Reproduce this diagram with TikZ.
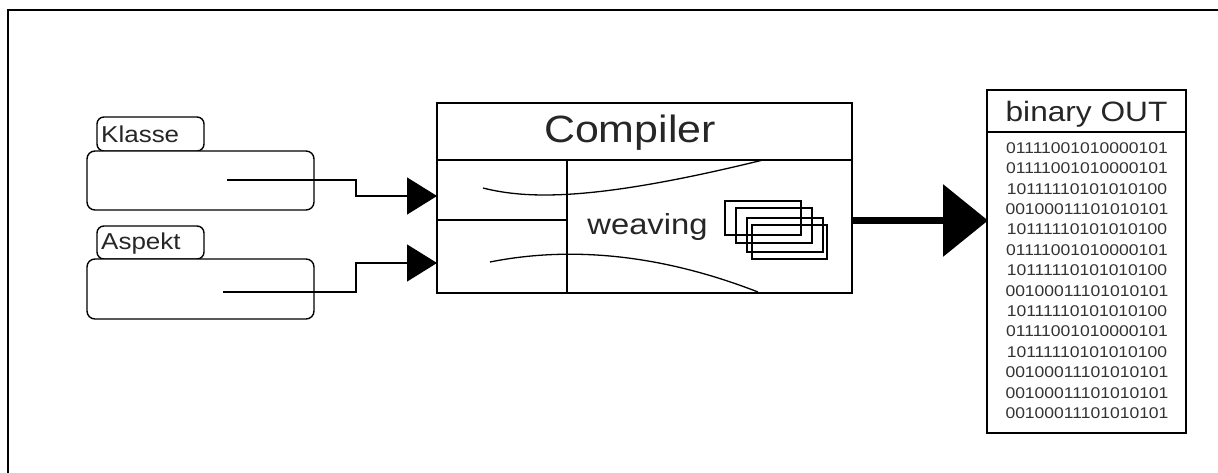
\documentclass[tikz,border=0pt]{standalone}
\usepackage{fontspec}
\setmainfont{Liberation Sans}[FakeStretch=1.13]
\usetikzlibrary{arrows.meta}
\tikzset{
  box/.style={draw, line width=1.4pt, rounded corners=8pt, inner sep=0pt, outer sep=0pt, fill=white},
  tab/.style={draw, line width=1.4pt, rounded corners=7pt, inner sep=0pt, outer sep=0pt},
  plainbox/.style={draw, line width=1.4pt, inner sep=0pt, outer sep=0pt},
  thin/.style={line width=1.3pt},
  conn/.style={line width=1.4pt, -{Triangle[length=30pt,width=37pt]}},
  bigconn/.style={line width=7pt, -{Triangle[length=45pt,width=71pt]}},
  lbl/.style={inner sep=0pt, anchor=base west, font=\fontsize{23}{25}\selectfont, text=black!85},
  digits/.style={inner sep=0pt, font=\fontsize{15.5}{18}\selectfont, text=black!80},
}
\begin{document}
\begin{tikzpicture}[x=1pt,y=-1pt]
\useasboundingbox (0,0) rectangle (1218,473);
% outer frame (top and left only)
\draw[line width=2.5pt] (8,473) -- (8,10) -- (1218,10);

% Klasse
\node[tab, minimum width=107pt, minimum height=34pt] (klab) at (150.5,134) {};
\node[lbl] (ktext) at (101,143) {Klasse};
\node[box, minimum width=227pt, minimum height=59pt] (kbox) at (200.5,180.5) {};
% Aspekt
\node[tab, minimum width=107pt, minimum height=33pt] (alab) at (150.5,242.5) {};
\node[lbl] (atext) at (101,250) {Aspekt};
\node[box, minimum width=227pt, minimum height=60pt] (abox) at (200.5,289) {};

% Compiler
\node[plainbox, minimum width=415pt, minimum height=190pt] (comp) at (644.5,198) {};
\draw[thin] (437,160) -- (852,160);
\draw[thin] (567,160) -- (567,293);
\draw[thin] (437,220) -- (567,220);
\node[inner sep=0pt, anchor=base, font=\fontsize{38}{40}\selectfont, text=black!85] (ctext) at (630,143) {Compiler};
\node[inner sep=0pt, anchor=base, font=\fontsize{29}{31}\selectfont, text=black!85] (wtext) at (647.5,235) {weaving};
\draw[thin] (483,188) .. controls (530,200) and (600,200) .. (763,160);
\draw[thin] (490,262) .. controls (560,248) and (650,250) .. (758,292);
% stacked rectangles
\draw[thin] (725,201) rectangle (801,235);
\draw[thin] (736,208) rectangle (812,243);
\draw[thin] (747,218) rectangle (823,252);
\draw[thin] (752,225) rectangle (827,259);

% binary OUT
\node[plainbox, minimum width=199pt, minimum height=343pt] (out) at (1086.5,261.5) {};
\draw[thin] (987,132) -- (1186,132);
\node[inner sep=0pt, anchor=base, font=\fontsize{28}{30}\selectfont, text=black!85] (otext) at (1086.5,122) {binary OUT};
\foreach \s [count=\i] in {01111001010000101,01111001010000101,10111110101010100,00100011101010101,10111110101010100,01111001010000101,10111110101010100,00100011101010101,10111110101010100,01111001010000101,10111110101010100,00100011101010101,00100011101010101,00100011101010101}{
  \node[digits] (b\i) at (1087,{148+20.4*(\i-1)}) {\s};
}

% connectors
\coordinate (ks) at (227,180);
\coordinate (kin) at (437,196);
\coordinate (as) at (223,292);
\coordinate (ain) at (437,263);
\draw[conn] (ks) -- (356,180) |- (kin);
\draw[conn] (as) -- (356,292) |- (ain);
\coordinate (cout) at (852,220.5);
\coordinate (oin) at (988,220.5);
\draw[bigconn] (cout) -- (oin);
\end{tikzpicture}
\end{document}
